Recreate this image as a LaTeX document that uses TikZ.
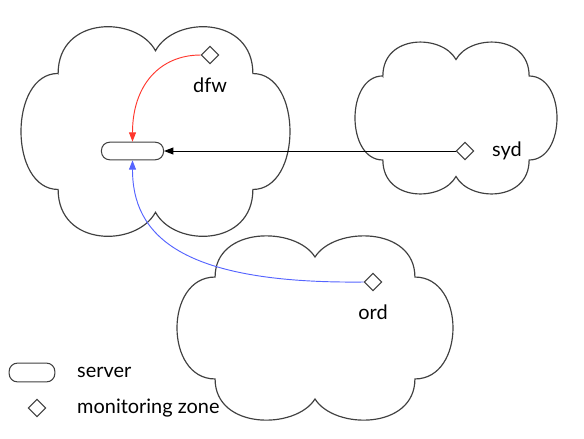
\documentclass[tikz,border=0pt]{standalone}
\usepackage{fontspec}
\setmainfont{Lato}
\usetikzlibrary{positioning,shapes.geometric,arrows.meta}

\definecolor{linkred}{RGB}{255,55,45}
\definecolor{linkblue}{RGB}{85,100,255}

\tikzset{
  cloudline/.style={draw=black!75, line width=1pt},
  server/.style={draw=black!75, line width=0.9pt, rounded corners=7pt,
    minimum width=53pt, minimum height=15pt, inner sep=0pt, fill=white},
  zone/.style={diamond, draw=black!75, line width=0.9pt, minimum size=15pt,
    inner sep=0pt, fill=white},
  lbl/.style={inner sep=0pt, font=\fontsize{17}{20}\selectfont},
  link/.style={line width=0.8pt, -{Triangle[length=8pt,width=6pt]}},
}

% cloud outline: left, top, width, height (pixels)
\newcommand{\zonecloud}[4]{%
  \begin{scope}[shift={(#1,#2)},xscale=#3,yscale=#4]
    \draw[cloudline] (0.138,0.22)
      .. controls (0.138,-0.06) and (0.43,-0.06) .. (0.5,0.11)
      .. controls (0.57,-0.06) and (0.862,-0.06) .. (0.862,0.22)
      .. controls (1.046,0.22) and (1.046,0.78) .. (0.862,0.78)
      .. controls (0.862,1.06) and (0.57,1.06) .. (0.5,0.89)
      .. controls (0.43,1.06) and (0.138,1.06) .. (0.138,0.78)
      .. controls (-0.046,0.78) and (-0.046,0.22) .. cycle;
  \end{scope}}

\begin{document}
\begin{tikzpicture}[x=0.03cm,y=-0.03cm]
    \useasboundingbox (0,0) rectangle (584,438);
    %clouds
    \zonecloud{21}{28}{269}{207}
    \zonecloud{355}{43}{202}{150}
    \zonecloud{177}{237}{276}{182}
    %server and zones
    \node[server] (server) at (132.5,151) {};
    \node[zone] (dfw) at (210,55) {};
    \node[zone] (syd) at (465,151) {};
    \node[zone] (ord) at (373,282) {};
    \node[lbl, below=11pt of dfw] (dfwlabel) {dfw};
    \node[lbl, right=15pt of syd] (sydlabel) {syd};
    \node[lbl, below=11pt of ord] (ordlabel) {ord};
    %links
    \draw[link, linkred] (dfw.west) .. controls (160,55) and (132.5,85) .. (server.north);
    \draw[link, black] (syd.west) -- (server.east);
    \draw[link, linkblue] (ord.west) .. controls (180,284) and (132.5,235) .. (server.south);
    %legend
    \node[server, minimum width=39pt, minimum height=16pt] (legserver) at (32,372.5) {};
    \node[zone] (legzone) at (37,408) {};
    \node[lbl, anchor=west] (legservertext) at (77,372) {server};
    \node[lbl, anchor=west] (legzonetext) at (legservertext.west |- legzone) {monitoring zone};
\end{tikzpicture}
\end{document}
